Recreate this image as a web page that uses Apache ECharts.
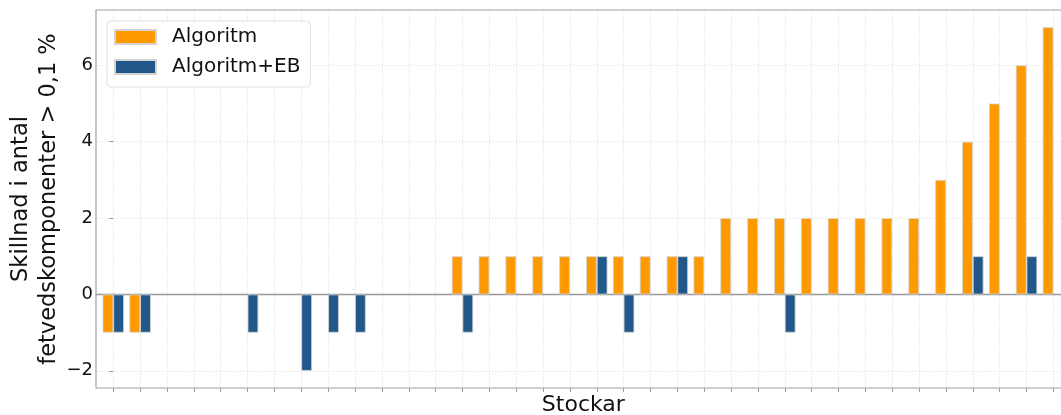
<!DOCTYPE html>
<html>
<head>
<meta charset="utf-8">
<script src="https://cdn.jsdelivr.net/npm/echarts@6/dist/echarts.min.js"></script>
<style>
  html, body { margin: 0; padding: 0; background: #fff; }
  #chart { width: 1061px; height: 415px; }
</style>
</head>
<body>
<div id="chart"></div>
<script>
// Difference in number of heartwood components > 0,1 % per log
const seriesNames = ['Algoritm', 'Algoritm+EB'];
const algoritm   = [-1, -1, 0, 0, 0, 0, 0, 0, 0, 0, 0, 0, 0, 1, 1, 1, 1, 1, 1, 1, 1, 1, 1, 2, 2, 2, 2, 2, 2, 2, 2, 3, 4, 5, 6, 7];
const algoritmEB = [-1, -1, 0, 0, 0, -1, 0, -2, -1, -1, 0, 0, 0, -1, 0, 0, 0, 0, 1, -1, 0, 1, 0, 0, 0, -1, 0, 0, 0, 0, 0, 0, 1, 0, 1, 0];
const yTicks = [-2, 0, 2, 4, 6];

// one slot per log along the x axis
const stockar = algoritm.map((_, i) => i);

const FONT = 'DejaVu Sans';
const GRID_LINE = { color: '#e8e8e8', width: 1.2, type: [1.5, 1.5] };

// plot frame and the pixel spacing of one log slot
const PLOT_LEFT = 96, PLOT_TOP = 10, PLOT_BOTTOM = 27;
const SLOT = 26.86, X_PAD = 0.644;
const firstTickX = PLOT_LEFT + X_PAD * SLOT;
const lastTickX = firstTickX + (stockar.length - 1) * SLOT;
const W = 1061;

const chart = echarts.init(document.getElementById('chart'), null, { renderer: 'canvas' });

// zero-height bars get no outline so they vanish into the zero line
const barData = (values) => values.map((v, i) => ({
  value: [stockar[i], v],
  itemStyle: v === 0 ? { borderWidth: 0 } : undefined
}));
const barStyle = (color) => ({ color: color, borderColor: '#d4d4d4', borderWidth: 0.8 });

chart.setOption({
  animation: false,
  backgroundColor: '#fff',
  textStyle: { fontFamily: FONT },
  grid: [
    {
      // main plot with the bars
      left: PLOT_LEFT, top: PLOT_TOP, bottom: PLOT_BOTTOM,
      right: W - (lastTickX + X_PAD * SLOT),
      outerBoundsMode: 'none', containLabel: false,
      show: true, borderColor: '#a0a0a0', borderWidth: 1.2, backgroundColor: 'transparent',
      z: 1
    },
    {
      // spans first to last log: carries the vertical grid lines and x ticks
      left: firstTickX, top: PLOT_TOP, bottom: PLOT_BOTTOM,
      right: W - lastTickX,
      outerBoundsMode: 'none', containLabel: false,
      show: false,
      z: 0
    }
  ],
  legend: {
    orient: 'vertical',
    left: 107, top: 21,
    padding: [6, 10, 10, 7],
    itemWidth: 41, itemHeight: 14, itemGap: 10,
    icon: 'rect',
    backgroundColor: '#fff',
    borderColor: '#e0e0e0', borderWidth: 1, borderRadius: 4,
    textStyle: { fontFamily: FONT, fontSize: 20, lineHeight: 20, color: '#111', padding: [0, 0, 0, 11] },
    data: seriesNames,
    z: 10
  },
  xAxis: [
    {
      gridIndex: 0, type: 'value',
      min: -X_PAD, max: stockar.length - 1 + X_PAD,
      name: 'Stockar', nameLocation: 'middle', nameGap: 6,
      nameMoveOverlap: false,
      nameTextStyle: { fontFamily: FONT, fontSize: 22, color: '#111', verticalAlign: 'top' },
      axisLine: { show: false },
      axisTick: { show: false },
      axisLabel: { show: false },
      splitLine: { show: false }
    },
    {
      gridIndex: 1, type: 'value',
      min: 0, max: stockar.length - 1, interval: 1,
      axisLine: { show: false },
      axisTick: { show: true, length: 4, lineStyle: { color: '#999', width: 1 } },
      axisLabel: { show: false },
      splitLine: { show: true, lineStyle: GRID_LINE }
    }
  ],
  yAxis: [
    {
      gridIndex: 0, type: 'value',
      min: -2.45, max: 7.45,
      name: 'Skillnad i antal\nfetvedskomponenter > 0,1 %',
      nameLocation: 'middle', nameRotate: 90, nameGap: 33,
      nameMoveOverlap: false,
      nameTextStyle: { fontFamily: FONT, fontSize: 22.5, color: '#111', lineHeight: 28, align: 'center' },
      axisLine: { show: false },
      axisTick: { show: true, length: 4, lineStyle: { color: '#999', width: 1 }, customValues: yTicks },
      axisLabel: {
        customValues: yTicks, margin: 3,
        fontFamily: FONT, fontSize: 18, color: '#111',
        formatter: (v) => String(v).replace('-', '\u2212')
      },
      splitLine: { show: true, lineStyle: GRID_LINE }
    },
    {
      gridIndex: 1, type: 'value', min: 0, max: 1, show: false
    }
  ],
  series: [
    {
      name: seriesNames[0], type: 'bar',
      xAxisIndex: 0, yAxisIndex: 0,
      barWidth: 10.7, barGap: '0%',
      itemStyle: barStyle('#ff9900'),
      data: barData(algoritm),
      z: 3
    },
    {
      name: seriesNames[1], type: 'bar',
      xAxisIndex: 0, yAxisIndex: 0,
      barWidth: 10.7, barGap: '0%',
      itemStyle: barStyle('#22578a'),
      data: barData(algoritmEB),
      // zero reference line
      markLine: {
        silent: true, symbol: 'none', label: { show: false },
        lineStyle: { color: '#999', width: 1.3, type: 'solid' },
        data: [{ yAxis: 0 }],
        z: 2
      },
      z: 3
    }
  ]
});
</script>
</body>
</html>
